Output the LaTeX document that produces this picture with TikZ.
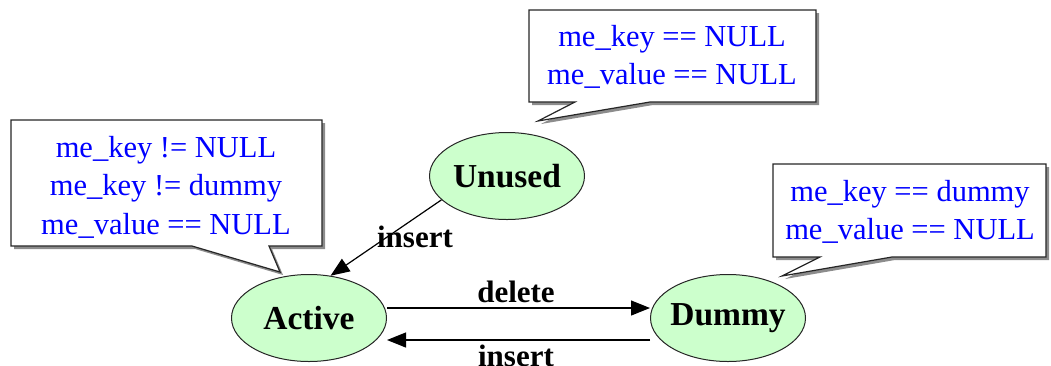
\documentclass[tikz,border=0pt]{standalone}
\usepackage{fontspec}
\setmainfont{Liberation Serif}
\usetikzlibrary{arrows.meta,shapes.geometric}
\definecolor{stategreen}{RGB}{204,255,204}
\definecolor{noteblue}{RGB}{0,0,255}
\begin{document}
\begin{tikzpicture}[x=1pt,y=-1pt,
  state/.style={ellipse, draw=black!85, line width=1pt, fill=stategreen,
    minimum width=155pt, minimum height=87pt, inner xsep=-20pt, inner ysep=0pt,
    font=\fontsize{33.5}{36}\selectfont\bfseries},
  note/.style={align=center, text=noteblue, inner sep=0pt,
    font=\fontsize{30.5}{38.5}\selectfont},
  callout/.style={draw=black!85, fill=white, line width=1.2pt, line join=miter},
  shadow/.style={fill=black!45},
  trans/.style={-{Triangle[length=19pt,width=15pt]}, line width=1.2pt},
  lbl/.style={font=\fontsize{31}{34}\selectfont\bfseries, inner sep=0pt}]
\useasboundingbox (0,0) rectangle (1051,365);

% callout outlines (shadow first, then the white balloon)
\foreach \dx/\st in {3/shadow,0/callout}{
  \path[\st, shift={(\dx,\dx)}]
    (529,10) -- (816,10) -- (816,102) -- (650,102) -- (538,121) -- (575,102) -- (529,102) -- cycle;
  \path[\st, shift={(\dx,\dx)}]
    (11,120) -- (322,120) -- (322,246) -- (269,246) -- (280,272) -- (192,246) -- (11,246) -- cycle;
  \path[\st, shift={(\dx,\dx)}]
    (773,164) -- (1046,164) -- (1046,257) -- (892,257) -- (782,276) -- (820,257) -- (773,257) -- cycle;
}

% callout texts
\node[note] (nUnused) at (672,57) {me\_key == NULL\\me\_value == NULL};
\node[note] (nActive) at (166,187) {me\_key != NULL\\me\_key != dummy\\me\_value == NULL};
\node[note] (nDummy)  at (910,212) {me\_key == dummy\\me\_value == NULL};

% states
\node[state] (unused) at (507,176) {Unused};
\node[state] (active) at (309,318) {Active};
\node[state] (dummy)  at (728,318) {Dummy};

% transitions
\draw[trans] (unused.200) -- (active.63);
\draw[trans] ([yshift=10]active.east) -- ([yshift=10]dummy.west);
\draw[trans] ([yshift=-22]dummy.west) -- ([yshift=-22]active.east);

% transition labels
\node[lbl] (lInsert1) at (415,237) {insert};
\node[lbl] (lDelete)  at (516,292) {delete};
\node[lbl] (lInsert2) at (516,356) {insert};
\end{tikzpicture}
\end{document}
